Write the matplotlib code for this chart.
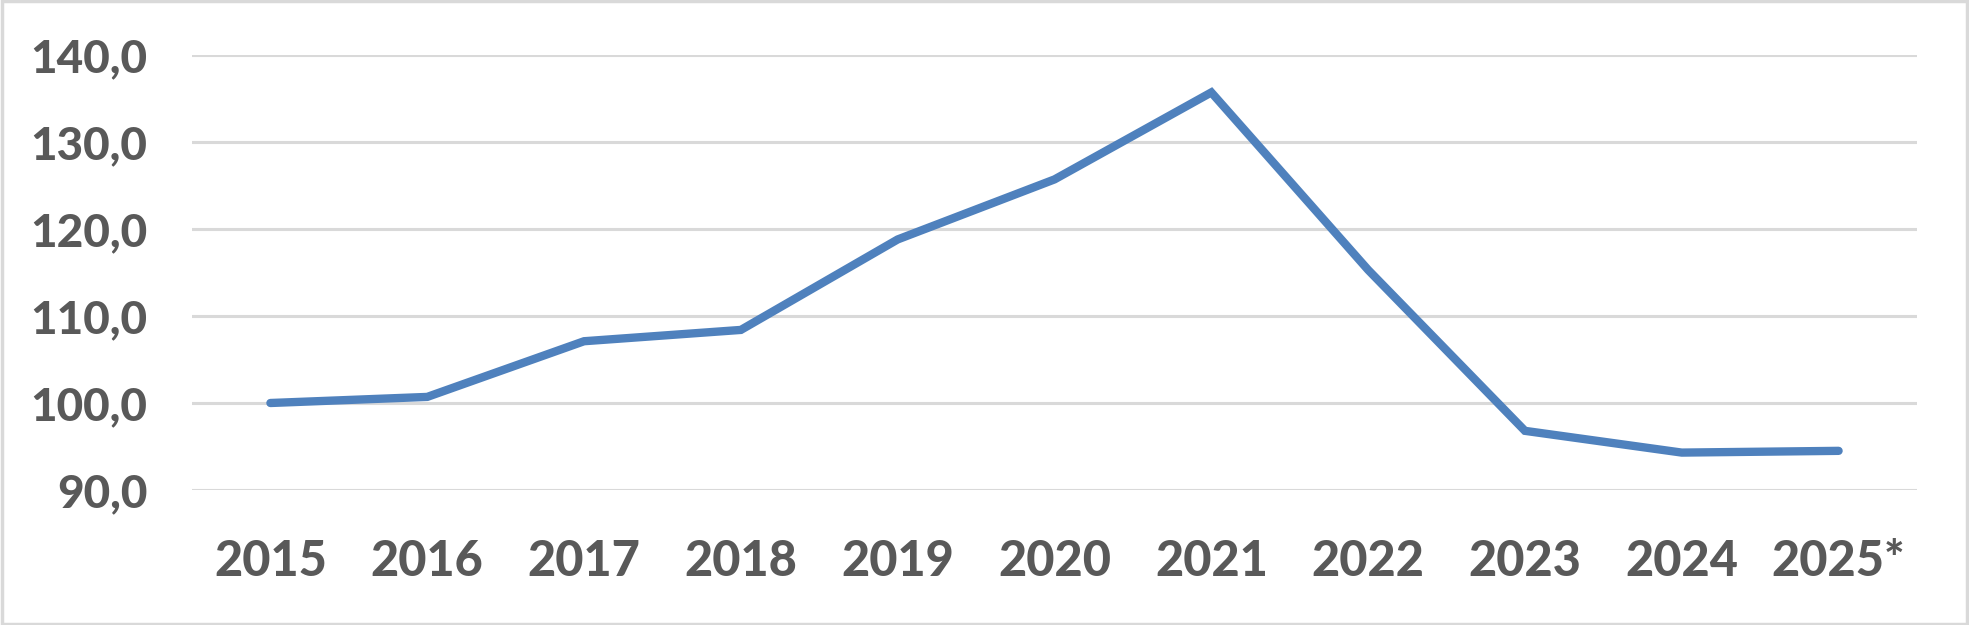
import matplotlib
matplotlib.use("Agg")
import matplotlib.pyplot as plt
from matplotlib.patches import Rectangle
from matplotlib.ticker import FuncFormatter

years = ["2015", "2016", "2017", "2018", "2019", "2020", "2021", "2022", "2023", "2024", "2025*"]
values = [100.0, 100.7, 107.1, 108.4, 118.8, 125.7, 135.7, 115.3, 96.8, 94.3, 94.5]
yticks = [90, 100, 110, 120, 130, 140]

W, H = 1969, 625
fig = plt.figure(figsize=(W / 100, H / 100), dpi=100)
ax = fig.add_axes([192 / W, 1 - 490 / H, (1917 - 192) / W, (490 - 55) / H])

x = list(range(len(years)))
ax.plot(x, values, color="#4F81BD", lw=6.0, solid_joinstyle="miter", solid_capstyle="round", zorder=3)

ax.set_xlim(-0.5, len(years) - 0.5)
ax.set_ylim(90, 140)
ax.set_yticks(yticks)
ax.yaxis.set_major_formatter(FuncFormatter(lambda v, p: f"{v:.1f}".replace(".", ",")))
ax.set_xticks(x)
ax.set_xticklabels(years)

for s in ax.spines.values():
    s.set_visible(False)
ax.grid(axis="y", color="#D9D9D9", lw=2.2, zorder=0)
ax.set_axisbelow(True)
ax.tick_params(axis="both", length=0)
ax.tick_params(axis="y", pad=32, labelsize=33, labelcolor="#595959")
ax.tick_params(axis="x", pad=35, labelsize=35, labelcolor="#595959")
for lab in ax.get_xticklabels() + ax.get_yticklabels():
    lab.set_fontfamily("Lato")
    lab.set_fontweight(900)

fig.patches.append(Rectangle((0.001, 0.002), 0.998, 0.996, transform=fig.transFigure,
                             fill=False, edgecolor="#D9D9D9", lw=2.5))

fig.savefig("out.png", dpi=100)
